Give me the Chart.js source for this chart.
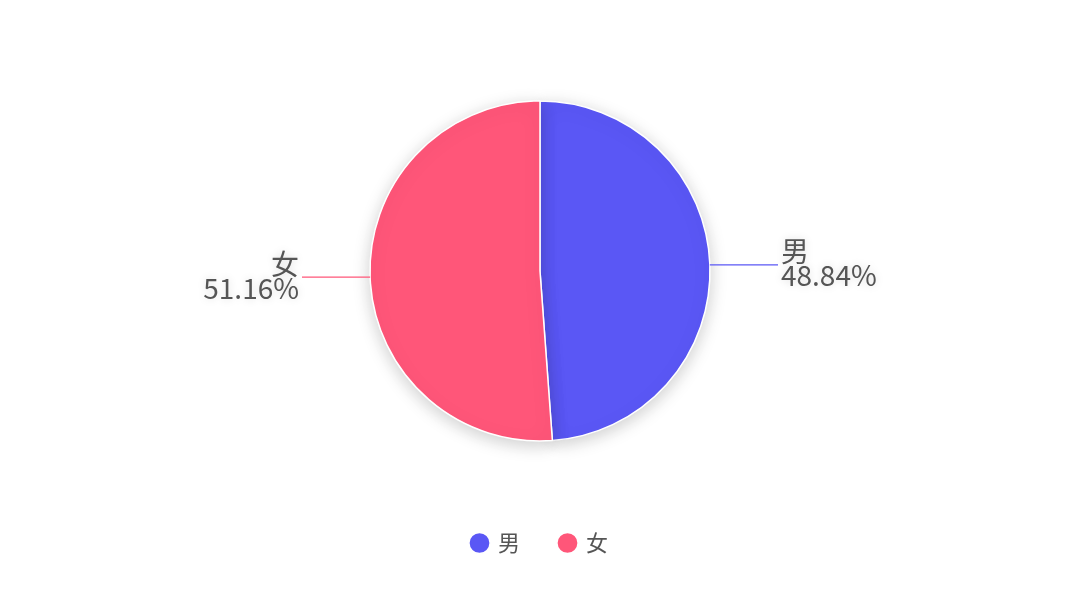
<!DOCTYPE html>
<html><head><meta charset="utf-8">
<script src="https://cdn.jsdelivr.net/npm/chart.js@4/dist/chart.umd.min.js"></script>
<style>html,body{margin:0;padding:0;background:#fff;}#wrap{width:1080px;height:609px;}</style>
</head><body><div id="wrap"><canvas id="c" width="1080" height="609"></canvas></div>
<script>
const categories = ['男', '女'];
const values = [48.84, 51.16];
const colors = ['#5A57F5', '#FF5679'];
const FONT = '"Noto Sans CJK SC", "Noto Sans", sans-serif';

const shadowPlugin = {
  id: 'shadow',
  beforeDatasetsDraw(chart) {
    const ctx = chart.ctx;
    ctx.save();
    ctx.shadowColor = 'rgba(0,0,0,0.2)';
    ctx.shadowBlur = 18;
    ctx.shadowOffsetX = 0;
    ctx.shadowOffsetY = 4;
  },
  afterDatasetsDraw(chart) { chart.ctx.restore(); }
};

const labelPlugin = {
  id: 'outLabels',
  afterDatasetsDraw(chart) {
    const ctx = chart.ctx;
    const meta = chart.getDatasetMeta(0);
    meta.data.forEach((arc, i) => {
      const {x, y, outerRadius, startAngle, endAngle} = arc.getProps(['x','y','outerRadius','startAngle','endAngle'], true);
      const mid = (startAngle + endAngle) / 2;
      const px = x + Math.cos(mid) * outerRadius;
      const py = y + Math.sin(mid) * outerRadius;
      const right = Math.cos(mid) >= 0;
      const ex = x + (right ? 1 : -1) * (outerRadius + 68);
      ctx.save();
      ctx.strokeStyle = colors[i];
      ctx.lineWidth = 1.2;
      ctx.beginPath();
      ctx.moveTo(px, py);
      ctx.lineTo(ex, py);
      ctx.stroke();
      ctx.shadowColor = 'rgba(0,0,0,0.15)';
      ctx.shadowBlur = 8;
      ctx.fillStyle = '#555';
      ctx.font = '28px ' + FONT;
      ctx.textAlign = right ? 'left' : 'right';
      const tx = ex + (right ? 3 : -3);
      ctx.textBaseline = 'bottom';
      ctx.fillText(categories[i], tx, py + 1);
      ctx.textBaseline = 'top';
      ctx.fillText(values[i].toFixed(2) + '%', tx, py - 3);
      ctx.restore();
    });
  }
};

new Chart(document.getElementById('c'), {
  type: 'pie',
  data: {
    labels: categories,
    datasets: [{
      data: values,
      backgroundColor: colors,
      borderColor: '#fff',
      borderWidth: 1.5,
      radius: 170
    }]
  },
  options: {
    responsive: false,
    animation: false,
    layout: { padding: { top: 50, bottom: 45 } },
    plugins: {
      tooltip: { enabled: false },
      legend: {
        position: 'bottom',
        labels: {
          usePointStyle: true,
          pointStyle: 'circle',
          boxHeight: 15,
          boxWidth: 15,
          padding: 40,
          color: '#555',
          font: { size: 22, family: FONT }
        }
      }
    }
  },
  plugins: [shadowPlugin, labelPlugin]
});
</script></body></html>
